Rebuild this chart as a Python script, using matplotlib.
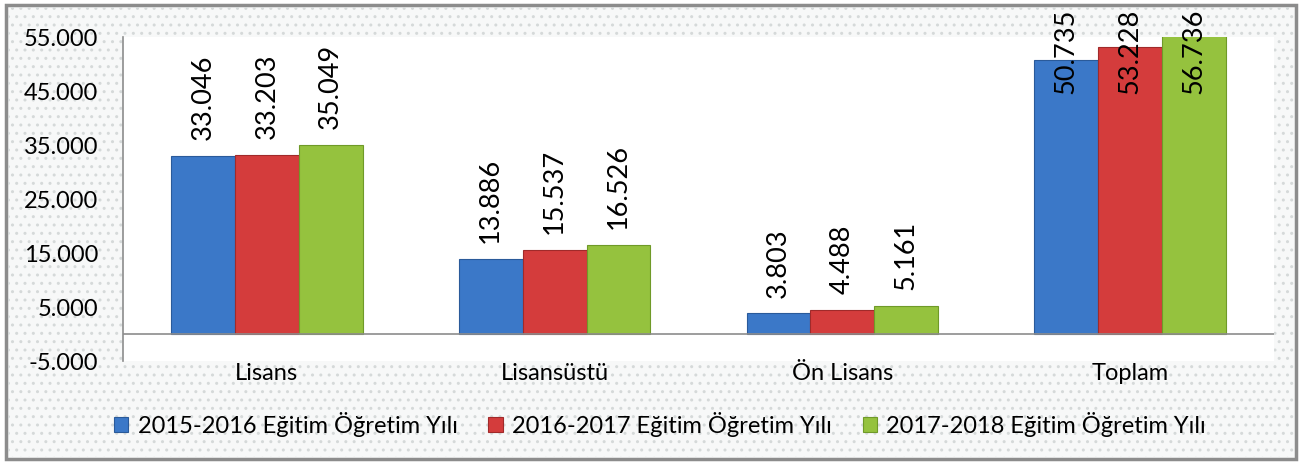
import matplotlib
matplotlib.use("Agg")
import matplotlib.pyplot as plt
from matplotlib.patches import Rectangle
import numpy as np

categories = ["Lisans", "Lisansüstü", "Ön Lisans", "Toplam"]
series_names = ["2015-2016 Eğitim Öğretim Yılı",
                "2016-2017 Eğitim Öğretim Yılı",
                "2017-2018 Eğitim Öğretim Yılı"]
v2015 = [33046, 13886, 3803, 50735]
v2016 = [33203, 15537, 4488, 53228]
v2017 = [35049, 16526, 5161, 56736]
yticks = [-5000, 5000, 15000, 25000, 35000, 45000, 55000]
ytick_labels = ["-5.000", "5.000", "15.000", "25.000", "35.000", "45.000", "55.000"]

colors = ["#3b78c8", "#d43c3c", "#95c23e"]
edges = ["#2a5a9a", "#a02a2a", "#6f9a28"]

plt.rcParams['font.family'] = ['Lato', 'DejaVu Sans']

fig = plt.figure(figsize=(13.02, 4.64), dpi=100)
fig.patch.set_facecolor("white")

# outer frame with dotted background
frame = Rectangle((6/1302, 4/464), 1290/1302, 454/464, transform=fig.transFigure,
                  facecolor="#f7f8f8", edgecolor="#8c8c8c", linewidth=2.5, zorder=0)
fig.patches.append(frame)
dots = Rectangle((8/1302, 6/464), 1286/1302, 450/464, transform=fig.transFigure,
                 facecolor="none", edgecolor="#d5d9d9", hatch="..", linewidth=0, zorder=0.5)
fig.patches.append(dots)

ax = fig.add_axes([123/1302, 1 - 362/464, (1274 - 123)/1302, (362 - 38)/464])
ax.set_facecolor("white")
ax.set_zorder(2)

x = np.arange(len(categories))
w = 0.222
series = [v2015, v2016, v2017]
for i, (vals, c, e, name) in enumerate(zip(series, colors, edges, series_names)):
    xs = x + (i - 1) * w
    ax.bar(xs, vals, width=w, color=c, edgecolor=e, linewidth=0.8, label=name, zorder=3)
    for xi, v in zip(xs, vals):
        ly = min(v, 41500)
        ax.annotate(f"{v/1000:.3f}", (xi, ly), xytext=(0, 12), textcoords="offset points",
                    rotation=90, ha="center", va="bottom", fontsize=19.5, color="black",
                    annotation_clip=False, zorder=5)

ax.set_ylim(-5000, 55000)
ax.set_xlim(-0.5, len(categories) - 0.5)
ax.set_yticks(yticks)
ax.set_yticklabels(ytick_labels, fontsize=17)
ax.set_xticks(x)
ax.set_xticklabels(categories, fontsize=17)
ax.tick_params(axis="both", length=0)
ax.tick_params(axis="x", pad=1)
ax.tick_params(axis="y", pad=18)
ax.axhline(0, color="#8c8c8c", linewidth=1.2, zorder=4)
for s in ["top", "right", "bottom"]:
    ax.spines[s].set_visible(False)
ax.spines["left"].set_color("#8c8c8c")
ax.spines["left"].set_linewidth(1.2)

leg = fig.legend(loc="center", bbox_to_anchor=(660/1302, 1 - 425/464), ncol=3, frameon=False,
                 fontsize=17, handlelength=0.6, handleheight=0.6, handletextpad=0.4,
                 columnspacing=1.3)

fig.savefig("out.png", dpi=100)
